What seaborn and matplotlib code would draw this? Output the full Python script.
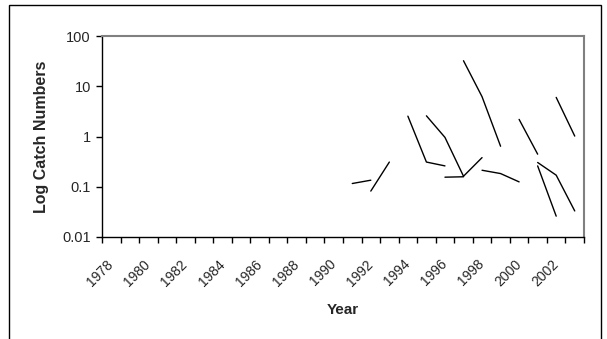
import numpy as np
import pandas as pd
import matplotlib
matplotlib.use("Agg")
import matplotlib.pyplot as plt
from matplotlib.patches import Rectangle
import seaborn as sns

# Catch numbers per cohort, followed through successive years
cohort_a_years = [1991, 1992]
cohort_a_catch = [0.116, 0.135]
cohort_b_years = [1992, 1993]
cohort_b_catch = [0.082, 0.31]
cohort_c_years = [1994, 1995, 1996]
cohort_c_catch = [2.54, 0.31, 0.26]
cohort_d_years = [1995, 1996, 1997]
cohort_d_catch = [2.58, 0.96, 0.162]
cohort_e_years = [1996, 1997]
cohort_e_catch = [0.155, 0.158]
cohort_f_years = [1997, 1998]
cohort_f_catch = [0.162, 0.38]
cohort_g_years = [1997, 1998, 1999]
cohort_g_catch = [32.2, 6.2, 0.64]
cohort_h_years = [1998, 1999, 2000]
cohort_h_catch = [0.213, 0.183, 0.125]
cohort_i_years = [2000, 2001]
cohort_i_catch = [2.19, 0.445]
cohort_j_years = [2001, 2002]
cohort_j_catch = [0.26, 0.026]
cohort_k_years = [2001, 2002, 2003]
cohort_k_catch = [0.304, 0.17, 0.033]
cohort_l_years = [2002, 2003]
cohort_l_catch = [6.0, 1.02]

first_year, last_year = 1978, 2003
year_labels = [str(y) for y in range(first_year, last_year + 1, 2)]
y_ticks = [0.01, 0.1, 1, 10, 100]
y_tick_labels = ["0.01", "0.1", "1", "10", "100"]

cohorts = {
    "a": (cohort_a_years, cohort_a_catch),
    "b": (cohort_b_years, cohort_b_catch),
    "c": (cohort_c_years, cohort_c_catch),
    "d": (cohort_d_years, cohort_d_catch),
    "e": (cohort_e_years, cohort_e_catch),
    "f": (cohort_f_years, cohort_f_catch),
    "g": (cohort_g_years, cohort_g_catch),
    "h": (cohort_h_years, cohort_h_catch),
    "i": (cohort_i_years, cohort_i_catch),
    "j": (cohort_j_years, cohort_j_catch),
    "k": (cohort_k_years, cohort_k_catch),
    "l": (cohort_l_years, cohort_l_catch),
}
df = pd.concat(
    [pd.DataFrame({"cohort": k, "Year": yrs, "Catch": vals}) for k, (yrs, vals) in cohorts.items()],
    ignore_index=True,
)

sns.set_theme(style="white")
plt.rcParams["font.family"] = ["Liberation Sans", "DejaVu Sans"]

W, H = 607, 339
fig = plt.figure(figsize=(W / 100, H / 100), dpi=100)
ax = fig.add_axes([102 / W, 1 - 237 / H, (584 - 102) / W, (237 - 36) / H])

sns.lineplot(data=df, x="Year", y="Catch", units="cohort", estimator=None,
             color="black", linewidth=1.0, ax=ax, legend=False)

ax.set_yscale("log")
ax.set_ylim(0.01, 100)
ax.set_xlim(first_year - 0.5, last_year + 0.5)

ax.set_yticks(y_ticks)
ax.set_yticklabels(y_tick_labels)
ax.yaxis.set_minor_locator(matplotlib.ticker.NullLocator())

# category boundaries carry the tick marks, labels sit at category centres
boundaries = np.arange(first_year - 0.5, last_year + 1.0, 1.0)
ax.set_xticks(boundaries)
ax.set_xticklabels([""] * len(boundaries))
centres = np.arange(first_year, last_year + 1, 2)
ax.set_xticks(centres, minor=True)
ax.set_xticklabels(year_labels, minor=True, rotation=45, ha="right",
                   va="center", rotation_mode="anchor", fontsize=10)
ax.tick_params(axis="x", which="major", direction="out", length=4, width=1,
               color="black", bottom=True)
ax.tick_params(axis="x", which="minor", length=0, pad=18)
ax.tick_params(axis="y", which="major", direction="out", length=4, width=1,
               color="black", left=True, labelsize=10.5, pad=4)

for side in ("left", "bottom"):
    ax.spines[side].set_color("black")
    ax.spines[side].set_linewidth(1.0)
for side in ("top", "right"):
    ax.spines[side].set_visible(True)
    ax.spines[side].set_color("#808080")
    ax.spines[side].set_linewidth(1.5)

ax.set_xlabel("Year", fontsize=11, fontweight="bold", va="center")
ax.xaxis.set_label_coords(0.5, (237 - 310) / (237 - 36))
ax.set_ylabel("Log Catch Numbers", fontsize=11.5, fontweight="bold", va="center")
ax.yaxis.set_label_coords((41.5 - 102) / (584 - 102), 0.5)

# outer chart border
fig.patches.append(Rectangle((9 / W, -0.05), (601 - 9) / W, 1.05 - 5 / H,
                             transform=fig.transFigure, fill=False,
                             edgecolor="black", linewidth=1.0))

fig.savefig("out.png", dpi=100, facecolor="white")
